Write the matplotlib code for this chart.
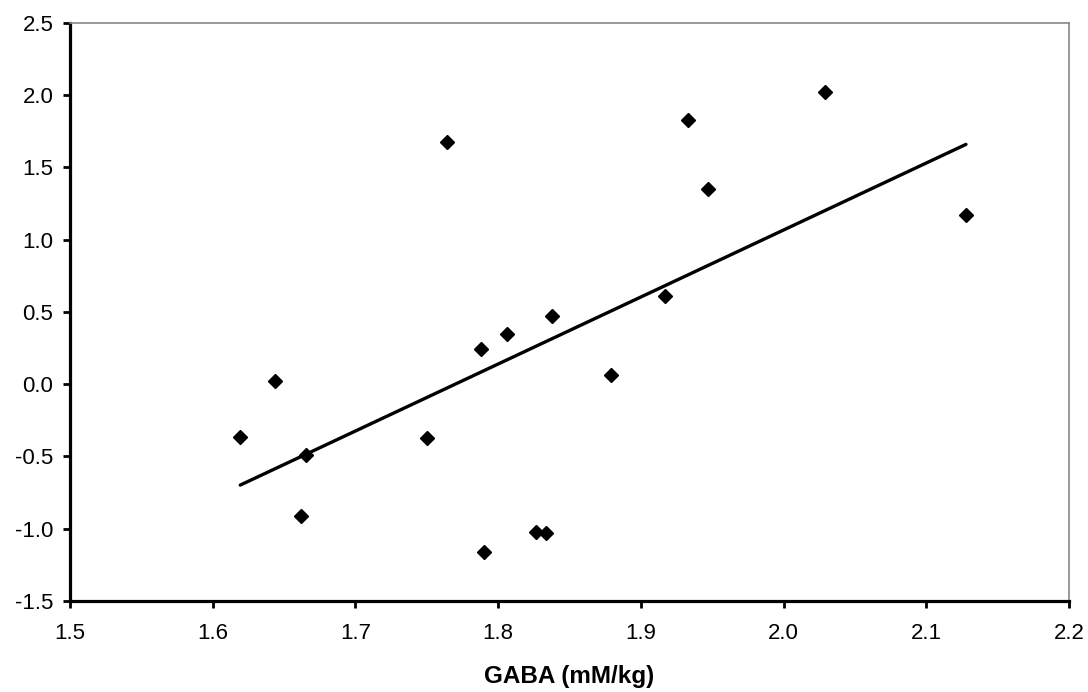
import numpy as np
import matplotlib
matplotlib.use("Agg")
import matplotlib.pyplot as plt

# GABA concentration (mM/kg) and the paired score for each subject
gaba = [1.6193, 1.6439, 1.6652, 1.6619, 1.7502, 1.7640, 1.7880, 1.7901, 1.8060,
        1.8265, 1.8333, 1.8380, 1.8791, 1.9171, 1.9330, 1.9473, 2.0290, 2.1278]
score = [-0.365, 0.022, -0.490, -0.914, -0.374, 1.677, 0.241, -1.160, 0.347,
         -1.024, -1.027, 0.472, 0.066, 0.612, 1.827, 1.352, 2.019, 1.170]

x_ticks = [1.5, 1.6, 1.7, 1.8, 1.9, 2.0, 2.1, 2.2]
y_ticks = [-1.5, -1.0, -0.5, 0.0, 0.5, 1.0, 1.5, 2.0, 2.5]

plt.rcParams['font.family'] = ['Liberation Sans', 'DejaVu Sans']

fig = plt.figure(figsize=(10.88, 6.92), dpi=100)
ax = fig.add_axes([70 / 1088, 1 - 601 / 692, (1069 - 70) / 1088, (601 - 22.7) / 692])

x = np.array(gaba)
y = np.array(score)

# least-squares trend line over the data range
slope, intercept = np.polyfit(x, y, 1)
xl = np.array([x.min(), x.max()])
ax.plot(xl, slope * xl + intercept, color='black', lw=2.4, solid_capstyle='round', zorder=2)

ax.plot(x, y, linestyle='none', marker='D', markersize=6.8, color='black', zorder=3)

ax.set_xlim(1.5, 2.2)
ax.set_ylim(-1.5, 2.5)
ax.set_xticks(x_ticks)
ax.set_xticklabels([f"{v:.1f}" for v in x_ticks])
ax.set_yticks(y_ticks)
ax.set_yticklabels([f"{v:.1f}" for v in y_ticks])

ax.tick_params(axis='both', direction='out', length=5, width=2, labelsize=16, color='black')
ax.tick_params(axis='y', pad=7)
ax.tick_params(axis='x', pad=11)

for side in ('left', 'bottom'):
    ax.spines[side].set_linewidth(2.3)
    ax.spines[side].set_color('black')
for side in ('top', 'right'):
    ax.spines[side].set_linewidth(1.2)
    ax.spines[side].set_color('#888888')

ax.set_xlabel('GABA (mM/kg)', fontsize=17.5, fontweight='bold', labelpad=15)

fig.savefig('out.png', dpi=100, facecolor='white')
